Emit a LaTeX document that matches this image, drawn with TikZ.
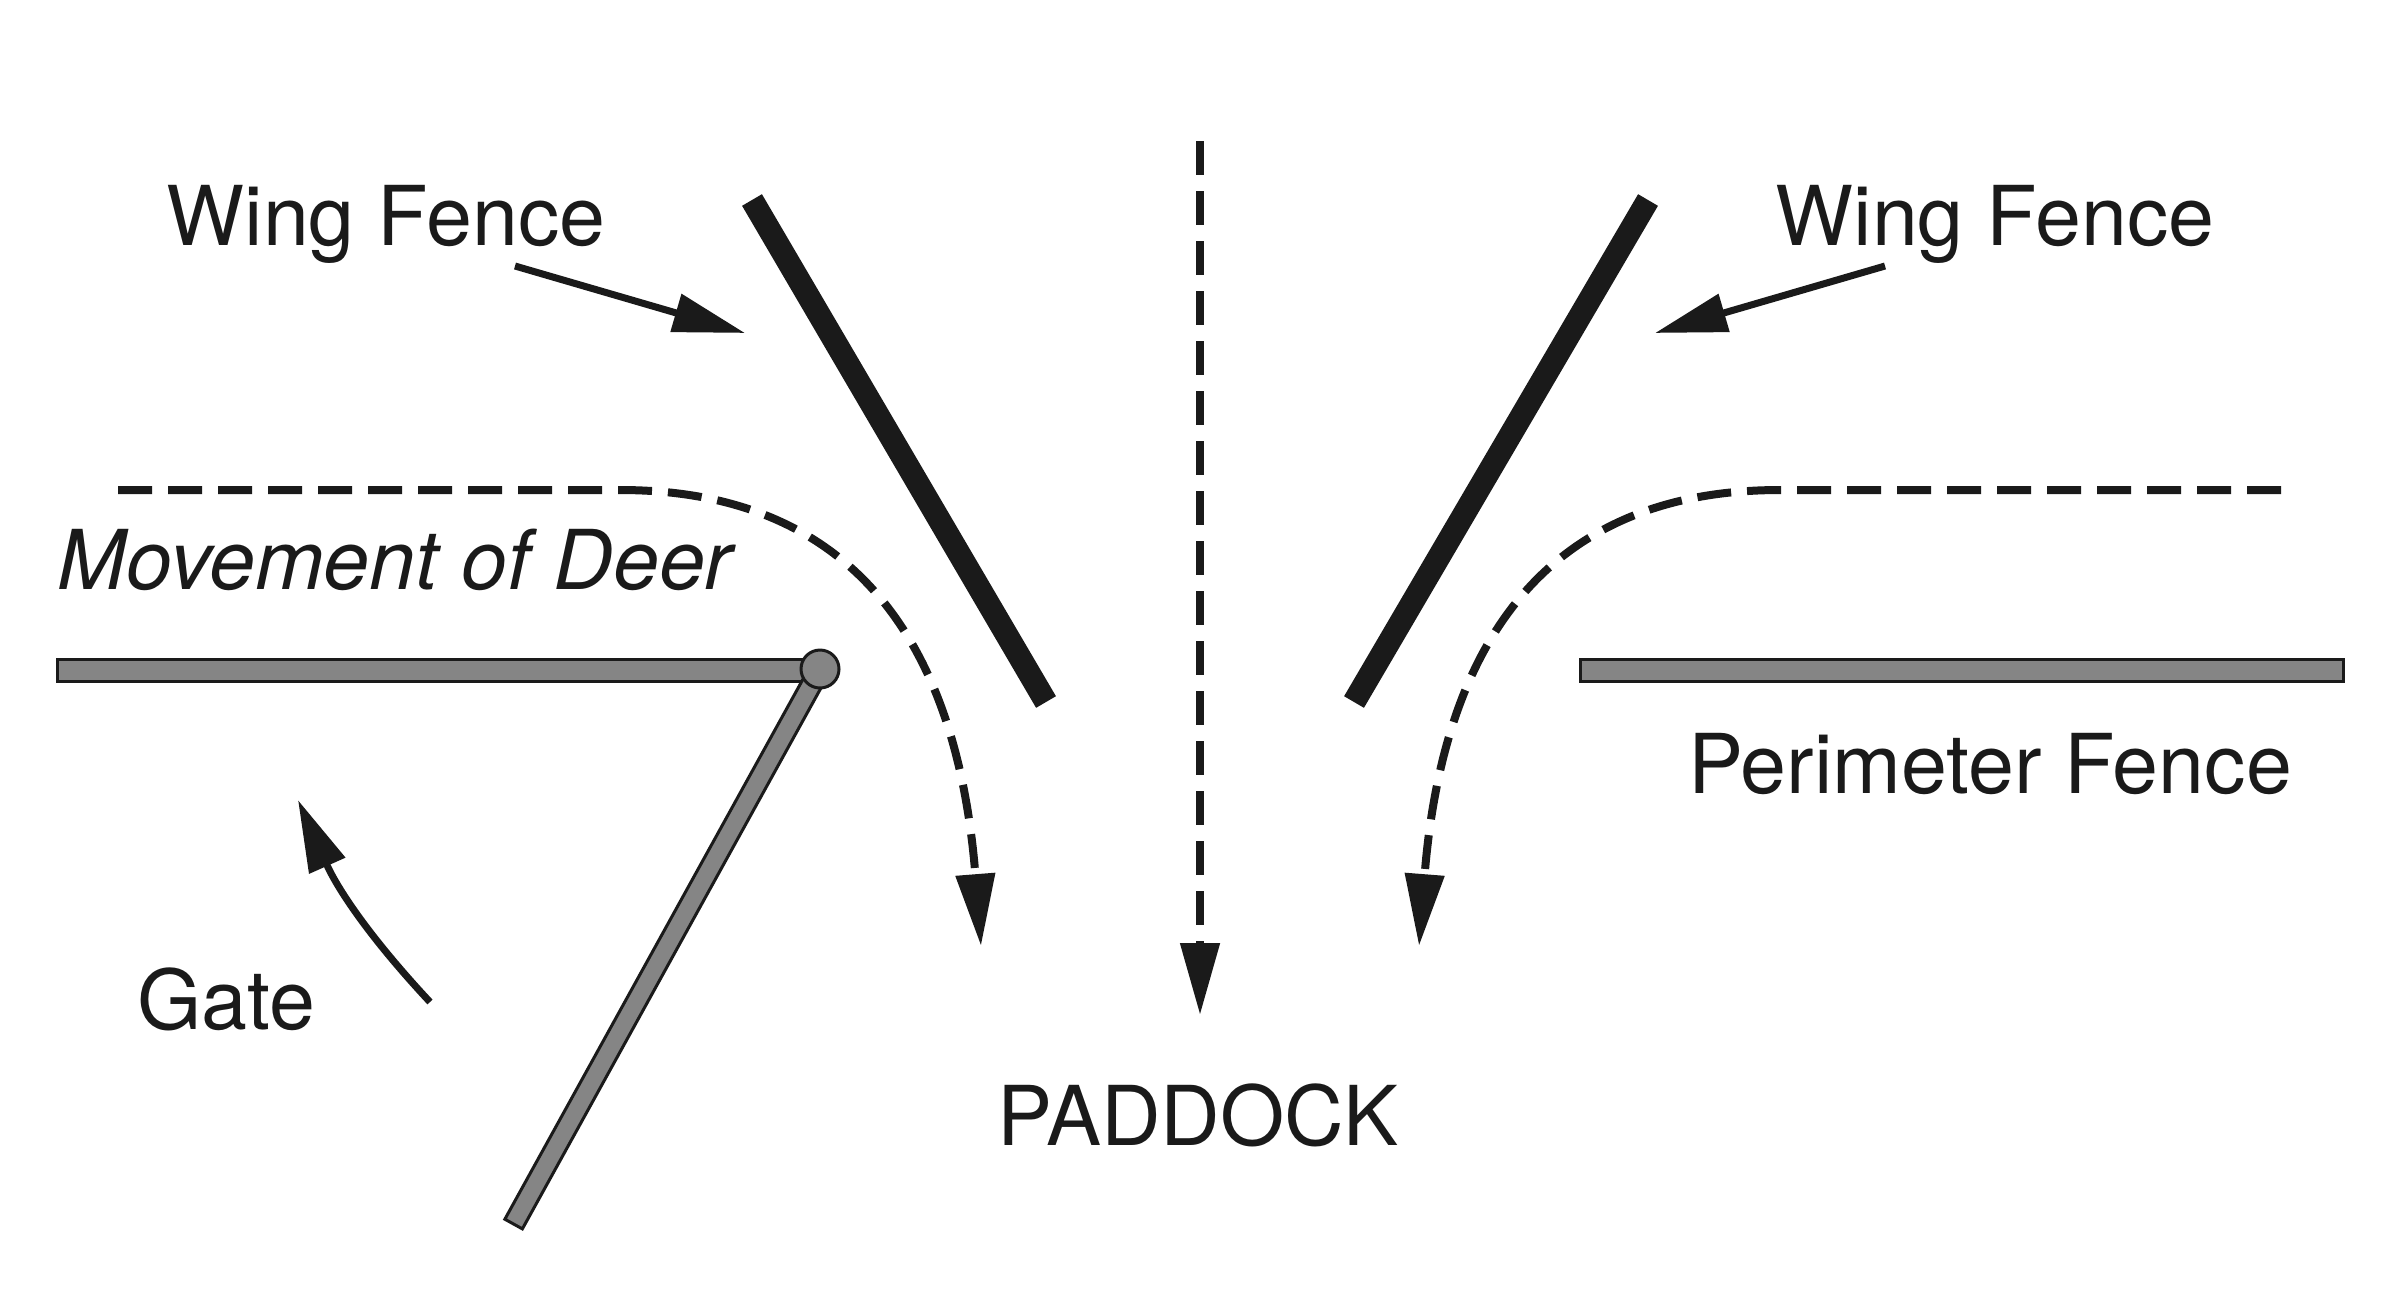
\documentclass[tikz,border=0pt]{standalone}
\usepackage{fontspec}
\setmainfont{TeX Gyre Heros}
\usetikzlibrary{arrows.meta,calc}
\definecolor{ink}{HTML}{1A1A1A}
\definecolor{fencegray}{HTML}{858585}
\tikzset{
  lbl/.style={font=\fontsize{23.5}{28}\selectfont, text=ink, inner sep=0pt},
  wingfence/.style={draw=ink, line width=0.23cm},
  perim/.style={draw=ink, fill=fencegray, line width=0.03cm},
  deerpath/.style={draw=ink, line width=0.08cm, dash pattern=on 0.34cm off 0.16cm, -{Triangle[length=0.72cm, width=0.38cm]}},
  pointer/.style={draw=ink, line width=0.07cm, -{Triangle[length=0.72cm, width=0.38cm]}},
}

\begin{document}
\begin{tikzpicture}
\useasboundingbox (0,0) rectangle (24,-12.9);
% wing fences
\coordinate (wlt) at (7.52,-2.00);
\coordinate (wlb) at (10.46,-7.02);
\coordinate (wrt) at (16.48,-2.00);
\coordinate (wrb) at (13.54,-7.02);
\draw[wingfence] (wlt) -- (wlb);
\draw[wingfence] (wrt) -- (wrb);
\node[lbl, anchor=base] (wingl) at (3.86,-2.45) {Wing Fence};
\node[lbl, anchor=base] (wingr) at (19.95,-2.45) {Wing Fence};
\coordinate (pl) at (5.15,-2.66);
\coordinate (pr) at (18.85,-2.66);
\coordinate (pltip) at (7.45,-3.33);
\coordinate (prtip) at (16.55,-3.33);
\draw[pointer] (pl) -- (pltip);
\draw[pointer] (pr) -- (prtip);
% perimeter fence and gate
\coordinate (hinge) at (8.20,-6.69);
\draw[perim] (0.57,-6.59) rectangle (8.20,-6.81);
\draw[perim] (15.80,-6.59) rectangle (23.43,-6.81);
\begin{scope}[shift={(hinge)}, rotate=-118.9]
\draw[perim] (0,-0.10) rectangle (6.34,0.10);
\end{scope}
\draw[perim] (hinge) circle (0.19);
\node[lbl, anchor=base] (perimlbl) at (19.90,-7.93) {Perimeter Fence};
\coordinate (gtail) at (4.30,-10.02);
\coordinate (gtip) at (2.98,-8.00);
\draw[pointer] (gtail) to[out=133, in=-66] (gtip);
\node[lbl, anchor=base] (gatelbl) at (2.26,-10.29) {Gate};
% movement of deer
\coordinate (dls) at (1.18,-4.90);
\coordinate (dlc) at (6.20,-4.90);
\coordinate (dle) at (9.81,-9.46);
\coordinate (drs) at (22.81,-4.90);
\coordinate (drc) at (17.80,-4.90);
\coordinate (dre) at (14.19,-9.46);
\coordinate (dms) at (12.00,-1.41);
\coordinate (dme) at (12.00,-10.15);
\draw[deerpath] (dls) -- (dlc) .. controls (8.8,-4.90) and (9.6,-6.8) .. (dle);
\draw[deerpath] (drs) -- (drc) .. controls (15.2,-4.90) and (14.4,-6.8) .. (dre);
\draw[deerpath] (dms) -- (dme);
\node[lbl, anchor=base west, font=\fontsize{23.5}{28}\selectfont\itshape] (deer) at (0.57,-5.89) {Movement of Deer};
\node[lbl, anchor=base] (paddock) at (11.98,-11.45) {PADDOCK};
\end{tikzpicture}
\end{document}
